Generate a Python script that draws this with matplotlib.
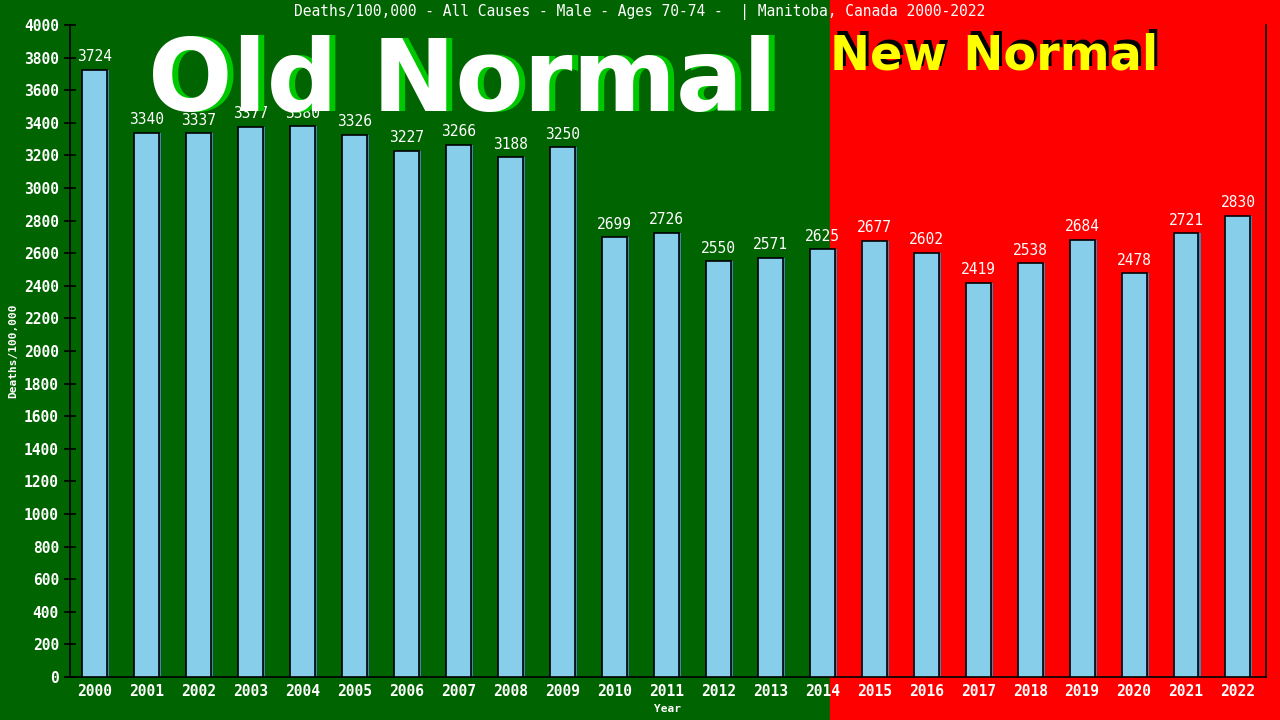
import numpy as np
import matplotlib
matplotlib.use("Agg")
import matplotlib.pyplot as plt
from matplotlib.patches import Rectangle

years = [str(y) for y in range(2000, 2023)]
deaths = [3724, 3340, 3337, 3377, 3380, 3326, 3227, 3266, 3188, 3250,
          2699, 2726, 2550, 2571, 2625, 2677, 2602, 2419, 2538, 2684,
          2478, 2721, 2830]
yticks = list(range(0, 4001, 200))
title = "Deaths/100,000 - All Causes - Male - Ages 70-74 -  | Manitoba, Canada 2000-2022"

mono = "DejaVu Sans Mono"
W, H = 1280, 720

fig = plt.figure(figsize=(12.8, 7.2), dpi=100)
# background: old normal (green) / new normal (red)
split = 830 / W
fig.patches.append(Rectangle((0, 0), split, 1, transform=fig.transFigure,
                             color="#006400", zorder=-10))
fig.patches.append(Rectangle((split, 0), 1 - split, 1, transform=fig.transFigure,
                             color="#ff0000", zorder=-10))

# big overlay texts (behind the chart)
fig.text((463 + 6) / W, 1 - 110 / H, "Old Normal", ha="center", va="baseline",
         color="#00c800", fontsize=71.5, fontweight="bold", family="DejaVu Sans")
fig.text(463 / W, 1 - 110 / H, "Old Normal", ha="center", va="baseline",
         color="white", fontsize=71.5, fontweight="bold", family="DejaVu Sans")
fig.text((994 + 3) / W, 1 - (69 - 3) / H, "New Normal", ha="center", va="baseline",
         color="black", fontsize=34.5, fontweight="bold", family="DejaVu Sans")
fig.text(994 / W, 1 - 69 / H, "New Normal", ha="center", va="baseline",
         color="#ffff00", fontsize=34.5, fontweight="bold", family="DejaVu Sans")

ax = fig.add_axes([70 / W, 43 / H, 1196 / W, 652 / H])
ax.patch.set_alpha(0)

x = np.arange(len(years))
w = 0.48
# shadow bars then main bars
ax.bar(x + 0.04, deaths, width=w, color="#4682b4", zorder=2)
ax.bar(x, deaths, width=w, color="#87ceeb", edgecolor="black", linewidth=1.2, zorder=3)

for xi, v in zip(x, deaths):
    ax.annotate(str(v), (xi, v), xytext=(0, 4), textcoords="offset points",
                ha="center", va="bottom", color="white", fontsize=10.5,
                family=mono, zorder=4)

ax.set_xlim(-0.48, len(years) - 1 + 0.54)
ax.set_ylim(0, 4000)
ax.set_xticks(x)
ax.set_xticklabels(years)
ax.set_yticks(yticks)
ax.tick_params(axis="x", length=0, pad=5, colors="white", labelsize=10.5)
ax.tick_params(axis="y", direction="inout", length=8, width=1.2, color="black",
               labelcolor="white", labelsize=10.5, pad=4)
for lab in ax.get_xticklabels() + ax.get_yticklabels():
    lab.set_family(mono)
    lab.set_fontweight("bold")

for s in ["left", "bottom", "right"]:
    ax.spines[s].set_color("black")
    ax.spines[s].set_linewidth(1.2)
ax.spines["top"].set_visible(False)

ax.set_xlabel("Year", color="white", fontsize=8, family=mono, fontweight="bold", labelpad=4)
ax.set_ylabel("Deaths/100,000", color="white", fontsize=8, family=mono, fontweight="bold", labelpad=4)

fig.text(0.5, 1 - 12 / H, title, ha="center", va="center", color="white",
         fontsize=10.5, family=mono)

fig.savefig("out.png", dpi=100)
